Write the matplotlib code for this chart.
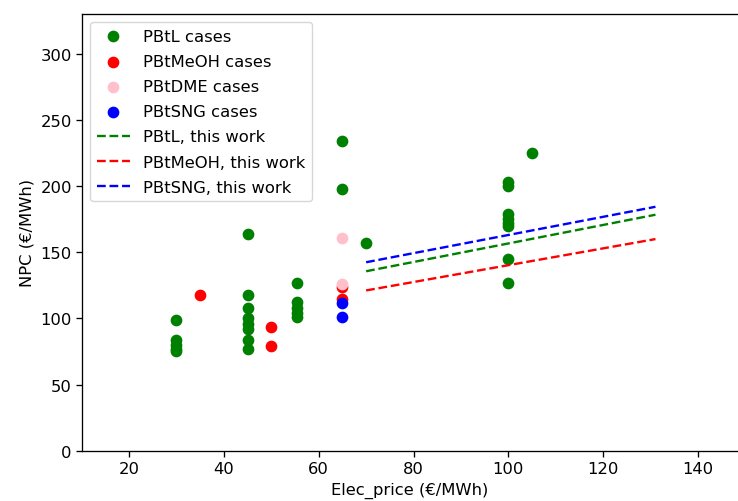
import matplotlib
matplotlib.use('Agg')
import matplotlib.pyplot as plt

plt.rcParams['font.size'] = 11.8
plt.rcParams['axes.linewidth'] = 0.95
plt.rcParams['xtick.major.width'] = 0.95
plt.rcParams['ytick.major.width'] = 0.95
plt.rcParams['xtick.major.size'] = 4
plt.rcParams['ytick.major.size'] = 4
plt.rcParams['savefig.bbox'] = 'standard'

# Literature cases
pbtl_x = [30, 30, 30, 30, 30, 45, 45, 45, 45, 45, 45, 45, 45,
          55.5, 55.5, 55.5, 55.5, 55.5, 65, 65, 70,
          100, 100, 100, 100, 100, 100, 100, 100, 105]
pbtl_y = [99, 84, 80, 77, 75, 164, 118, 108, 100, 96, 92, 84, 77,
          127, 112, 108, 104, 101, 234, 198, 157,
          203, 200, 179, 175, 172, 170, 145, 127, 225]
meoh_x = [35, 50, 50, 65, 65]
meoh_y = [118, 93.6, 79.3, 123.6, 114.5]
dme_x = [65, 65]
dme_y = [161, 126]
sng_x = [65, 65]
sng_y = [111.3, 100.7]

# This work
work_x = [70, 131]
work_pbtl = [135.6, 178.3]
work_meoh = [121.1, 159.9]
work_sng = [142.4, 184.3]

fig = plt.figure(figsize=(7.38, 5.02), dpi=100)
# the reference is cropped on the right: axes run to the figure edge, no right spine
ax = fig.add_axes([0.1115, 0.1002, 0.8885, 0.870])

ax.scatter(pbtl_x, pbtl_y, color='green', s=55, label='PBtL cases')
ax.scatter(meoh_x, meoh_y, color='red', s=55, label='PBtMeOH cases')
ax.scatter(dme_x, dme_y, color='pink', s=55, label='PBtDME cases')
ax.scatter(sng_x, sng_y, color='blue', s=55, label='PBtSNG cases')
ax.plot(work_x, work_pbtl, 'g--', lw=1.7, label='PBtL, this work')
ax.plot(work_x, work_meoh, 'r--', lw=1.7, label='PBtMeOH, this work')
ax.plot(work_x, work_sng, 'b--', lw=1.7, label='PBtSNG, this work')

ax.set_xlim(10.16, 148.4)
ax.set_ylim(0, 330)
ax.set_xticks([20, 40, 60, 80, 100, 120, 140])
ax.spines['right'].set_visible(False)
ax.set_xlabel('Elec_price (€/MWh)')
ax.set_ylabel('NPC (€/MWh)')
ax.legend(loc='upper left', labelspacing=0.62)

fig.savefig('out.png', dpi=100)
